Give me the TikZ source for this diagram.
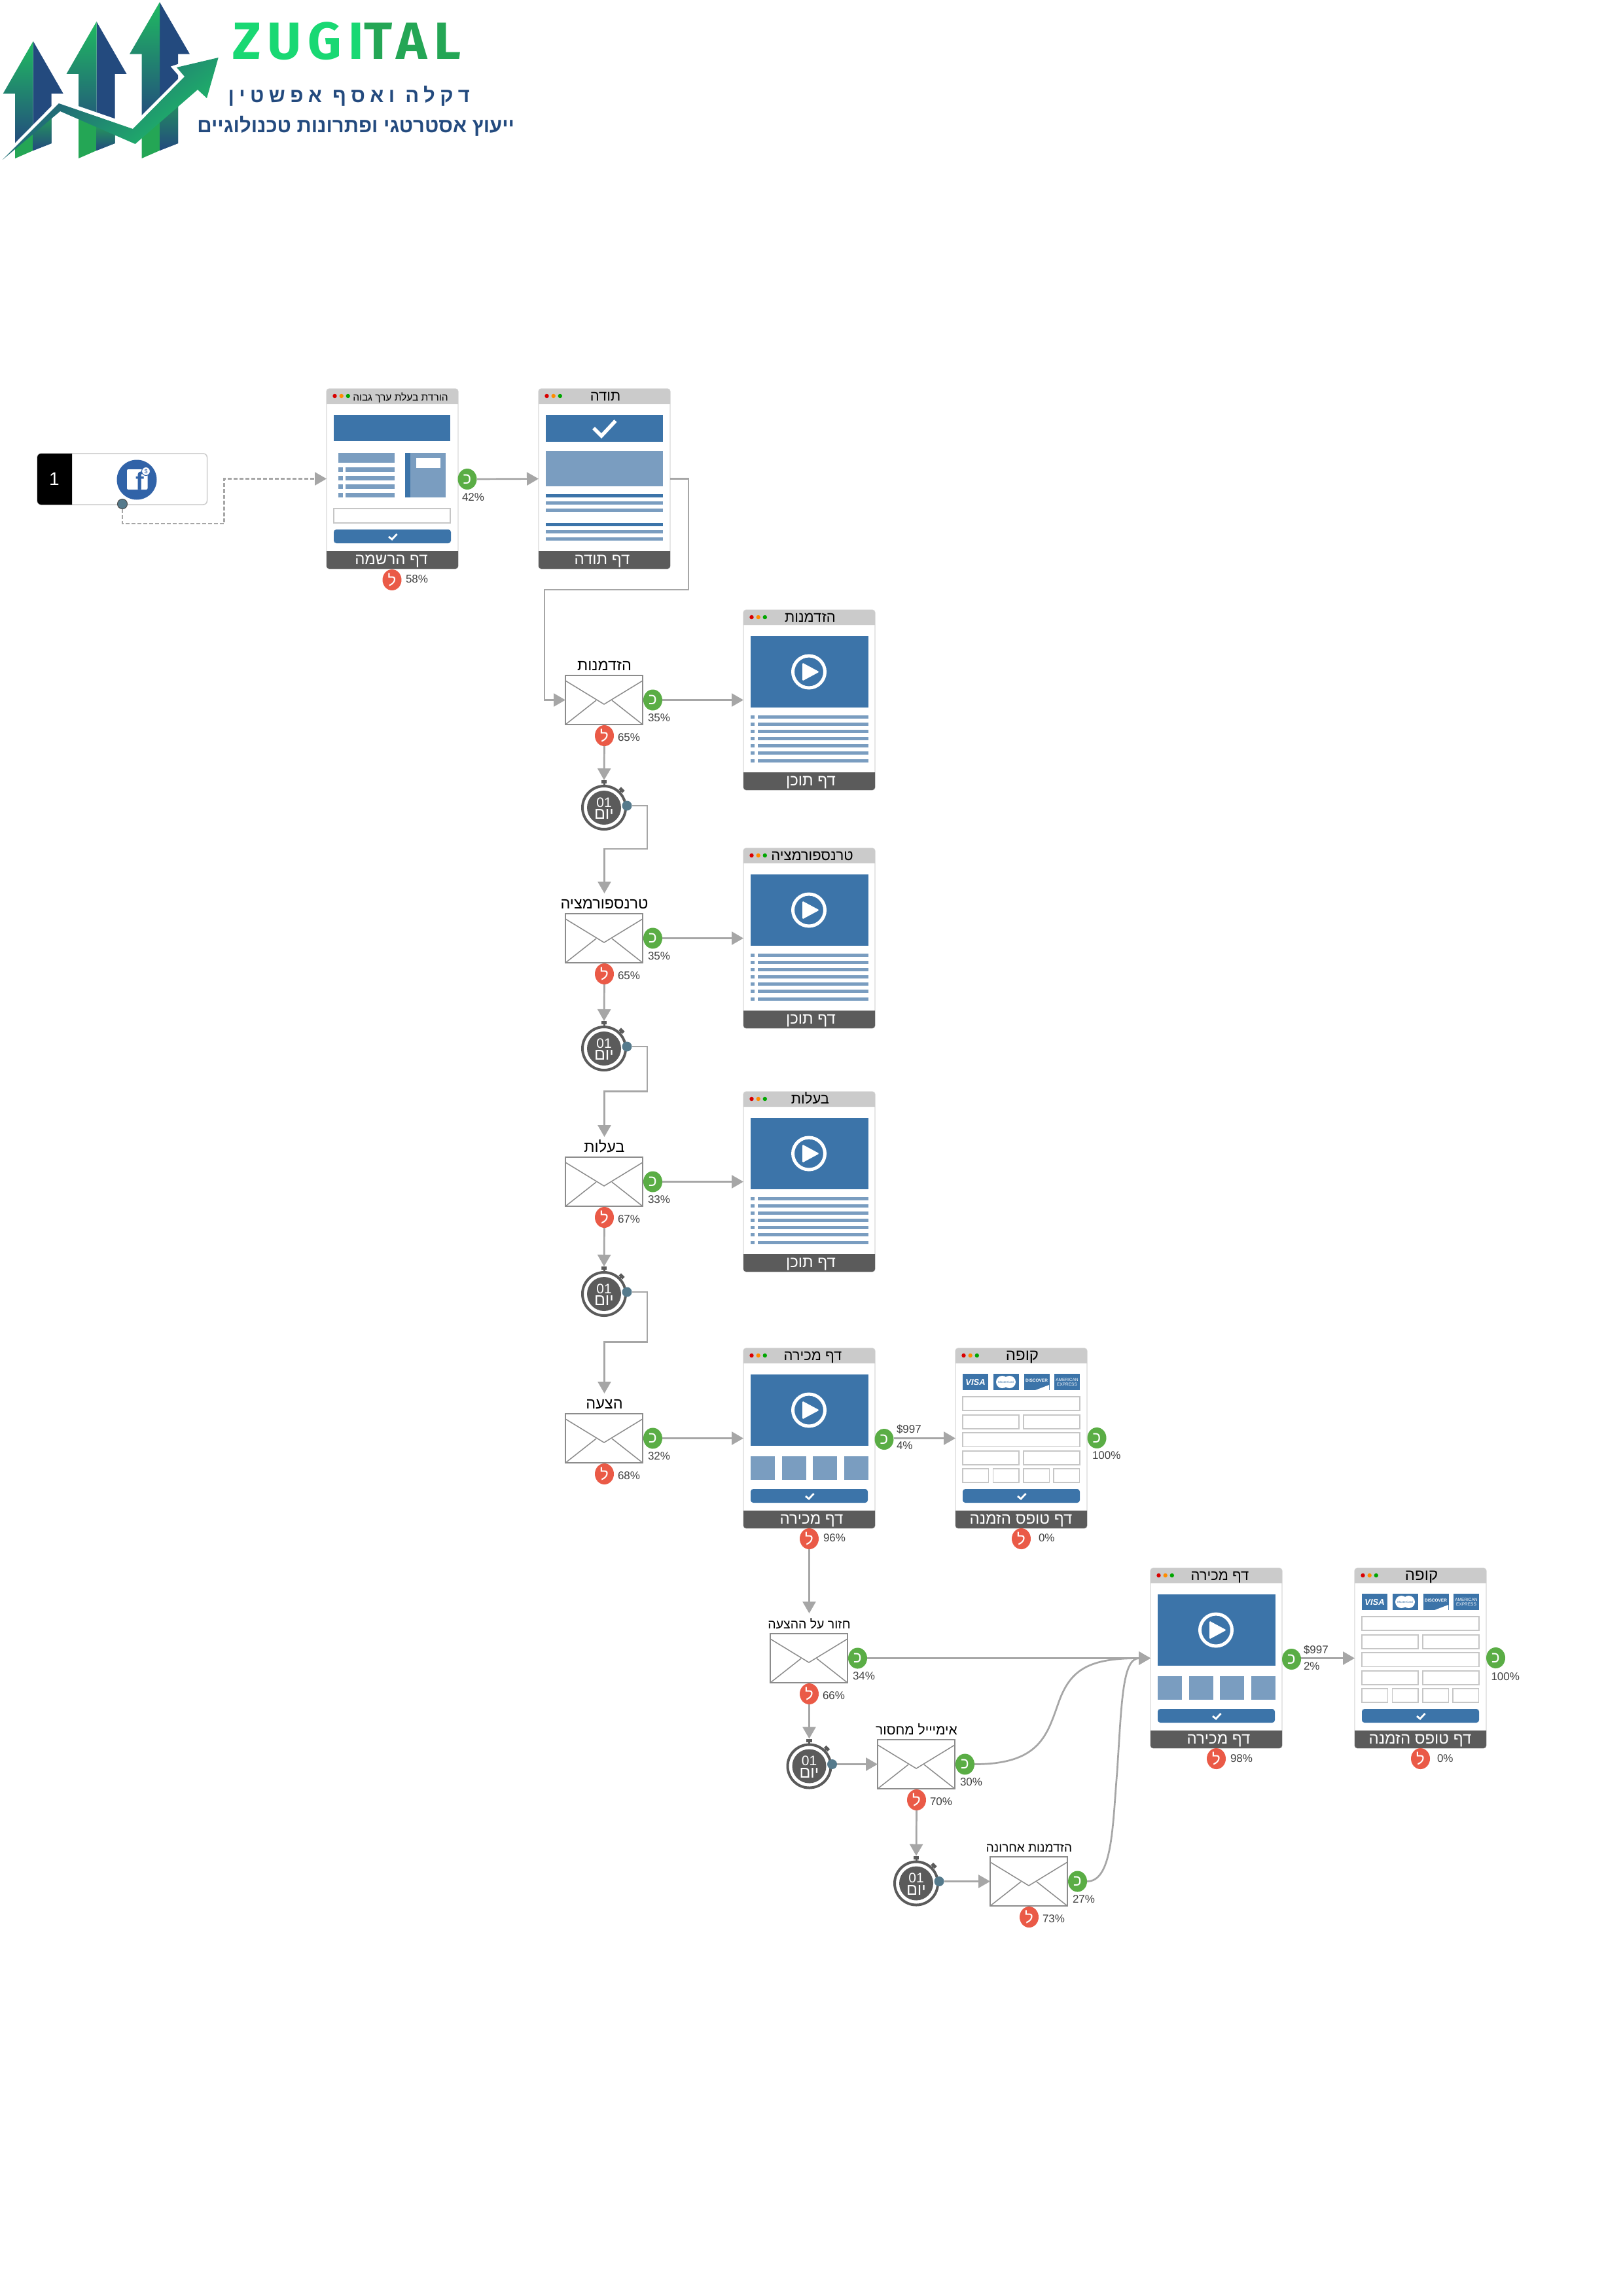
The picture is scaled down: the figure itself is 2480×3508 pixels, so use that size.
\documentclass[tikz,border=0pt]{standalone}
\usepackage{fontspec}
\setmainfont{Liberation Sans}
\newfontfamily\hebfont[Script=Hebrew]{Liberation Sans}
\newfontfamily\nameheb[Script=Hebrew,LetterSpace=24]{Liberation Sans}
\newfontfamily\logofont[LetterSpace=13]{Fira Sans}
\TeXXeTstate=1
\usetikzlibrary{arrows.meta,shapes.geometric,calc}

\definecolor{LineClr}{HTML}{A6A6A6}
\definecolor{BlueClr}{HTML}{3C74A9}
\definecolor{PaleClr}{HTML}{7A9DC0}
\definecolor{BarClr}{HTML}{CBCBCB}
\definecolor{FootClr}{HTML}{5B5B5B}
\definecolor{YesClr}{HTML}{5AAD45}
\definecolor{NoClr}{HTML}{EA5A47}
\definecolor{DotClr}{HTML}{557A8C}
\definecolor{TextClr}{HTML}{404040}
\definecolor{FieldClr}{HTML}{C6C6C6}
\definecolor{EnvClr}{HTML}{8C8C8C}
\definecolor{NavyClr}{HTML}{234A7E}
\definecolor{ZugiClr}{HTML}{19D873}
\definecolor{TalClr}{HTML}{24A655}
\definecolor{FbClr}{HTML}{3163A8}

\newcommand{\he}[2]{{\fontsize{#1}{#1}\selectfont\hebfont #2}}

\tikzset{
  conn/.style={draw=LineClr,line width=2.7pt,-{Triangle[length=18pt,width=20pt]}},
  dashconn/.style={conn,dash pattern=on 6pt off 3pt},
  plain/.style={inner sep=0pt,outer sep=0pt},
  pct/.style={plain,anchor=west,text=TextClr,font=\fontsize{17}{17}\selectfont},
  yesdot/.style={plain,ellipse,fill=YesClr,minimum width=29pt,minimum height=32pt,text=white},
  nodot/.style={plain,ellipse,fill=NoClr,minimum width=29pt,minimum height=32pt,text=white},
  pagebox/.style={plain,draw=black!15,line width=1.2pt,fill=white,rounded corners=4pt,minimum width=201pt,minimum height=275pt},
  mailbox/.style={plain,draw=EnvClr,line width=1.8pt,fill=white,minimum width=118pt,minimum height=75pt},
  mailline/.style={draw=EnvClr,line width=1.5pt},
  field/.style={draw=FieldClr,line width=1.5pt,fill=white},
  btn/.style={fill=BlueClr,rounded corners=4pt},
  chk/.style={draw=white,line width=2.8pt},
  cardtext/.style={plain,text=white}
}

% page frame: name, x, y, title, title size, title centre, footer, footer centre
\newcommand{\PageNode}[8]{%
  \node[pagebox,anchor=north west] (#1) at (#2,#3) {};
  \begin{scope}[shift={(#2,#3)}]
    \fill[BarClr] (0,23) [rounded corners=4pt] -- (0,0) -- (201,0) [sharp corners] -- (201,23) -- cycle;
    \fill[FootClr] (0,248) [rounded corners=4pt] -- (0,275) -- (201,275) [sharp corners] -- (201,248) -- cycle;
    \fill[red!85!black] (12.5,11) circle [radius=3.2];
    \fill[orange!90!yellow] (22.7,11) circle [radius=3.2];
    \fill[green!65!black] (32.8,11) circle [radius=3.2];
    \node[plain,anchor=base] (#1t) at (#6,18) {\he{#5}{#4}};
    \node[plain,anchor=base,text=white] (#1f) at (#8,268) {\he{24}{#7}};
  \end{scope}}

\newcommand{\VideoBlock}{%
  \fill[BlueClr] (11,40) rectangle (191,149);
  \draw[white,line width=5pt] (100,94.5) circle [radius=24.5];
  \fill[white,rounded corners=1.5pt] (90,80.5) -- (90,108.5) -- (116,94.5) -- cycle;}

\newcommand{\CheckBtn}{%
  \fill[btn] (11,215) rectangle (190,236);
  \draw[chk] (95,226) -- (100,230) -- (107.5,222);}

% content page
\newcommand{\ContentPage}[6]{%
  \PageNode{#1}{#2}{#3}{\beginR #4\endR}{#5}{#6}{\beginR דף תוכן\endR}{103}
  \begin{scope}[shift={(#2,#3)}]
    \VideoBlock
    \foreach \yy in {163,174,185,196,207,218,230}{
      \fill[PaleClr] (11,\yy-2.5) rectangle (17,\yy+2.5);
      \fill[PaleClr] (22,\yy-2.5) rectangle (191,\yy+2.5);}
  \end{scope}}

% sale page
\newcommand{\SalePage}[3]{%
  \PageNode{#1}{#2}{#3}{\beginR דף מכירה\endR}{22}{106}{\beginR דף מכירה\endR}{104}
  \begin{scope}[shift={(#2,#3)}]
    \VideoBlock
    \foreach \xx in {11,58.6,106,154}{
      \fill[PaleClr] (\xx,165) rectangle (\xx+37,201);}
    \CheckBtn
  \end{scope}}

% order form page
\newcommand{\FormPage}[3]{%
  \PageNode{#1}{#2}{#3}{\beginR קופה\endR}{24}{102}{\beginR דף טופס הזמנה\endR}{100}
  \begin{scope}[shift={(#2,#3)}]
    \foreach \xx in {11,57.7,104.5,151}{
      \fill[BlueClr] (\xx,39) rectangle (\xx+39,64);}
    \node[cardtext,font=\fontsize{13}{13}\selectfont\bfseries\itshape] (#1v) at (30.5,51.5) {VISA};
    \fill[white] (71.5,51.5) circle [radius=9.5];
    \fill[white] (82.5,51.5) circle [radius=9.5];
    \node[plain,text=BlueClr,font=\fontsize{4.5}{4.5}\selectfont] (#1m) at (77,51.5) {MasterCard};
    \node[cardtext,font=\fontsize{6.5}{6.5}\selectfont\bfseries] (#1d) at (124,49) {DISCOVER};
    \fill[white] (143,56) -- (143,64) -- (122,64) -- cycle;
    \node[cardtext,align=center,font=\fontsize{6.5}{7.5}\selectfont] (#1a) at (170.5,51.5) {AMERICAN\\EXPRESS};
    \draw[field] (11,74) rectangle (190,95);
    \draw[field] (11,102) rectangle (97,123);
    \draw[field] (104,102) rectangle (190,123);
    \draw[field] (11,129) rectangle (190,150.5);
    \draw[field] (11,157) rectangle (97,178);
    \draw[field] (104,157) rectangle (190,178);
    \foreach \xx in {11,57.5,104,150}{
      \draw[field] (\xx,184) rectangle (\xx+39.5,205);}
    \CheckBtn
  \end{scope}}

% mail: name, x, y, title, title size, yes share, no share
\newcommand{\MailNode}[7]{%
  \node[mailbox,anchor=north west] (#1) at (#2,#3) {};
  \begin{scope}[shift={(#2,#3)}]
    \draw[mailline] (0,8) -- (59,44) -- (118,8);
    \draw[mailline] (0,75) -- (47,38);
    \draw[mailline] (118,75) -- (71,38);
    \node[plain,anchor=base] (#1t) at (59.5,-8) {\he{#5}{#4}};
    \coordinate (#1i) at (59.5,-31);
    \node[yesdot] (#1y) at (133.5,37.5) {\he{24}{כ}};
    \node[pct] (#1p) at (126,65) {#6};
    \node[nodot] (#1n) at (59.5,92) {\he{24}{ל}};
    \node[pct] (#1q) at (80,95) {#7};
  \end{scope}}

% timer
\newcommand{\TimerNode}[3]{%
  \begin{scope}[shift={(#2,#3)}]
    \fill[FootClr] (-1.5,-40) rectangle (1.5,-33);
    \fill[FootClr,rotate=-45] (-1.2,-39) rectangle (1.2,-33);
    \node[plain,fill=FootClr,minimum width=5pt,minimum height=8pt,rotate=45] (#1k) at (27,-27) {};
    \node[plain,fill=FootClr,minimum width=8.6pt,minimum height=5.3pt,anchor=north] (#1c) at (0,-42) {};
    \node[plain,circle,draw=FootClr,line width=4pt,fill=white,minimum size=66pt] (#1) at (0,0) {};
    \fill[FootClr] (0,0) circle [radius=26];
    \node[plain,text=white,font=\fontsize{21}{21}\selectfont] (#1a) at (0,-8) {01};
    \node[plain,text=white] (#1b) at (0,10) {\he{25}{\beginR יום\endR}};
    \node[plain,circle,fill=DotClr,minimum size=15pt] (#1d) at (35,-3) {};
  \end{scope}}

% one arrow of the logo: centre, tip, shoulder, cut left, cut centre, cut right
\newcommand{\LogoUp}[6]{%
  \fill[NavyClr] (#1,#2) -- (#1+46,#3) -- (#1+28,#3) -- (#1+28,219) -- (#1,230) -- cycle;
  \shade[top color=TalClr!60!ZugiClr,bottom color=NavyClr] (#1,#2) -- (#1-46,#3) -- (#1-27.5,#3) -- (#1-27.5,#5+25) -- (#1,#5) -- cycle;
  \fill[TalClr] (#1-27.5,#4) -- (#1,#5) -- (#1,230) -- (#1-27.5,242) -- cycle;
  \shade[top color=TalClr,bottom color=NavyClr] (#1,#5) -- (#1+28,#6) -- (#1+28,219) -- (#1,230) -- cycle;}

\begin{document}
\begin{tikzpicture}[x=1pt,y=-1pt]
\useasboundingbox (0,0) rectangle (2480,3508);
\fill[white] (0,0) rectangle (2480,3508);

% logo
\LogoUp{50.7}{63}{143}{225}{197}{170}
\LogoUp{147.5}{33}{113}{175}{185}{195}
\LogoUp{244}{3.3}{82.7}{190}{160}{130}
\draw[white,line width=6pt,line cap=round] (8,238) -- (90,155) -- (203,194) -- (279,118) -- (266,103) -- (305,90);
\shade[top color=NavyClr,middle color=NavyClr!85!ZugiClr,bottom color=TalClr!45!ZugiClr,shading angle=38]
  (4,244) -- (90,158) -- (203,197) -- (282,117) -- (270,103) -- (333.7,88) -- (316,150) -- (302,137) -- (206.6,220) -- (92,170) -- cycle;
\node[plain,anchor=base west,font=\logofont\bfseries\fontsize{80}{80}\selectfont] (LOGO) at (355,91)
  {\textcolor{ZugiClr}{ZUGI}\textcolor{TalClr}{TAL}};
\node[plain,anchor=base east,text=NavyClr,font=\nameheb\bfseries\fontsize{31}{31}\selectfont] (LOGOa) at (718,157)
  {\beginR דקלה ואסף אפשטין\endR};
\node[plain,anchor=base east,text=NavyClr,font=\hebfont\bfseries\fontsize{31}{31}\selectfont] (LOGOb) at (786,203)
  {\beginR ייעוץ אסטרטגי ופתרונות טכנולוגיים\endR};

% source
\node[plain,draw=black!20,line width=1.5pt,fill=white,rounded corners=6pt,anchor=north west,minimum width=259.5pt,minimum height=78pt] (FB) at (57,693) {};
\fill[black] (110,693) [rounded corners=6pt] -- (57,693) -- (57,771) [sharp corners] -- (110,771) -- cycle;
\node[plain,text=white,font=\fontsize{28}{28}\selectfont] (FBn) at (83,732) {1};
\node[plain,circle,fill=FbClr,minimum size=61pt] (FBc) at (209,733) {};
\fill[white,rounded corners=2pt] (194,717) rectangle (225.5,748);
\node[plain,anchor=base,text=FbClr,font=\fontsize{38}{38}\selectfont\bfseries] (FBf) at (214,748) {f};
\node[plain,circle,fill=white,draw=FbClr,line width=1pt,minimum size=13pt,text=FbClr,font=\fontsize{9}{9}\selectfont] (FBs) at (223,720) {\$};
\node[plain,circle,fill=DotClr,draw=black!70,line width=1pt,minimum size=15pt] (FBd) at (187,770) {};

% pages
\PageNode{PA}{499}{594}{\beginR הורדת בעלת ערך גבוה\endR}{15.5}{113}{\beginR דף הרשמה\endR}{99}
\begin{scope}[shift={(499,594)}]
  \fill[BlueClr] (10.5,40) rectangle (189,80);
  \fill[PaleClr] (18,98) rectangle (104,113);
  \foreach \yy in {120,133,146,159}{
    \fill[PaleClr] (18,\yy) rectangle (25,\yy+7);
    \fill[PaleClr] (29,\yy) rectangle (104,\yy+7);}
  \fill[PaleClr] (120,98) rectangle (181.5,166);
  \fill[BlueClr] (120,98) rectangle (128,166);
  \fill[white] (137,106) rectangle (174,121);
  \draw[field] (11,183) rectangle (189,205);
  \CheckBtn
\end{scope}

\PageNode{PB}{823}{594}{\beginR תודה\endR}{22}{102}{\beginR דף תודה\endR}{97}
\begin{scope}[shift={(823,594)}]
  \fill[BlueClr] (11,40) rectangle (190,81);
  \draw[white,line width=5.5pt] (84,60) -- (96,72) -- (117.5,49);
  \fill[PaleClr] (11,95) rectangle (190,149);
  \foreach \yy in {161,205}{
    \fill[BlueClr] (11,\yy) rectangle (190,\yy+5);
    \fill[PaleClr] (11,\yy+11) rectangle (190,\yy+16);
    \fill[PaleClr] (11,\yy+22) rectangle (190,\yy+27);}
\end{scope}

\ContentPage{PC}{1136}{932}{הזדמנות}{22}{102}
\ContentPage{PD}{1136}{1296}{טרנספורמציה}{22}{105}
\ContentPage{PE}{1136}{1668}{בעלות}{22}{102}
\SalePage{PF}{1136}{2060}
\FormPage{PG}{1460}{2060}
\SalePage{PH}{1758}{2396}
\FormPage{PI}{2070}{2396}

% page exits
\node[yesdot] (PAy) at (714,732) {\he{24}{כ}};
\node[pct] (PAp) at (706,760) {42\%};
\node[nodot] (PAn) at (599,886) {\he{24}{ל}};
\node[pct] (PAq) at (620,885) {58\%};

\node[yesdot] (PFy) at (1351,2199) {\he{24}{כ}};
\node[pct] (PFs) at (1370,2184) {\$997};
\node[pct] (PFp) at (1370,2209) {4\%};
\node[nodot] (PFn) at (1236.5,2351) {\he{24}{ל}};
\node[pct] (PFq) at (1258,2350) {96\%};

\node[yesdot] (PGy) at (1676,2197) {\he{24}{כ}};
\node[pct] (PGp) at (1669,2224) {100\%};
\node[nodot] (PGn) at (1560.5,2351) {\he{24}{ל}};
\node[pct] (PGq) at (1587,2350) {0\%};

\node[yesdot] (PHy) at (1973.5,2535) {\he{24}{כ}};
\node[pct] (PHs) at (1992,2521) {\$997};
\node[pct] (PHp) at (1992,2546) {2\%};
\node[nodot] (PHn) at (1858.5,2687) {\he{24}{ל}};
\node[pct] (PHq) at (1880,2687) {98\%};

\node[yesdot] (PIy) at (2285.5,2533) {\he{24}{כ}};
\node[pct] (PIp) at (2278.5,2562) {100\%};
\node[nodot] (PIn) at (2170.5,2687) {\he{24}{ל}};
\node[pct] (PIq) at (2196,2687) {0\%};

% mails
\MailNode{MA}{864}{1032}{\beginR הזדמנות\endR}{23.5}{35\%}{65\%}
\MailNode{MB}{864}{1396}{\beginR טרנספורמציה\endR}{23.5}{35\%}{65\%}
\MailNode{MC}{864}{1768}{\beginR בעלות\endR}{23.5}{33\%}{67\%}
\MailNode{MD}{864}{2160}{\beginR הצעה\endR}{23.5}{32\%}{68\%}
\MailNode{ME}{1177}{2496}{\beginR חזור על ההצעה\endR}{19.5}{34\%}{66\%}
\MailNode{MF}{1341}{2658}{\beginR אימיייל מחסור\endR}{21}{30\%}{70\%}
\MailNode{MG}{1513}{2837}{\beginR הזדמנות אחרונה\endR}{19}{27\%}{73\%}

% timers
\TimerNode{TA}{923}{1234}
\TimerNode{TB}{923}{1602}
\TimerNode{TC}{923}{1977}
\TimerNode{TE}{1236.5}{2698.5}
\TimerNode{TF}{1400}{2877.5}

% connectors
\draw[dashconn] (FBd.south) |- (342.5,800) |- (PA.west);
\draw[conn] (PAy.east) -- (PB.west);
\draw[conn] (PB.east) -| (1052,901) -| (832,1069.5) -- (MA.west);

\draw[conn] (MAy.east) -- (PC.west);
\draw[conn] (MAn.south) -- (TAc.north);
\draw[conn] (TAd.east) -| (989,1297) -| (MBi);

\draw[conn] (MBy.east) -- (PD.west);
\draw[conn] (MBn.south) -- (TBc.north);
\draw[conn] (TBd.east) -| (989,1667.5) -| (MCi);

\draw[conn] (MCy.east) -- (PE.west);
\draw[conn] (MCn.south) -- (TCc.north);
\draw[conn] (TCd.east) -| (989,2050.5) -| (MDi);

\draw[conn] (MDy.east) -- (PF.west);
\draw[conn] (PFy.east |- PG.west) -- (PG.west);
\draw[conn] (PFn.south) -- (MEi);

\draw[conn] (MEy.east) -- (PH.west);
\draw[conn] (MEn.south) -- (TEc.north);
\draw[conn] (TEd.east) -- (MF.west);
\draw[conn] (MFy.east) .. controls (1590,2695.5) and (1600,2650) .. (1618,2600) .. controls (1636,2550) and (1665,2533.5) .. (PH.west);
\draw[conn] (MFn.south) -- (TFc.north);
\draw[conn] (TFd.east) -- (MG.west);
\draw[conn] (MGy.east) .. controls (1700,2874.5) and (1700,2790) .. (1707,2707) .. controls (1714,2600) and (1715,2533.5) .. (PH.west);
\draw[conn] (PHy.east |- PI.west) -- (PI.west);
\end{tikzpicture}
\end{document}
